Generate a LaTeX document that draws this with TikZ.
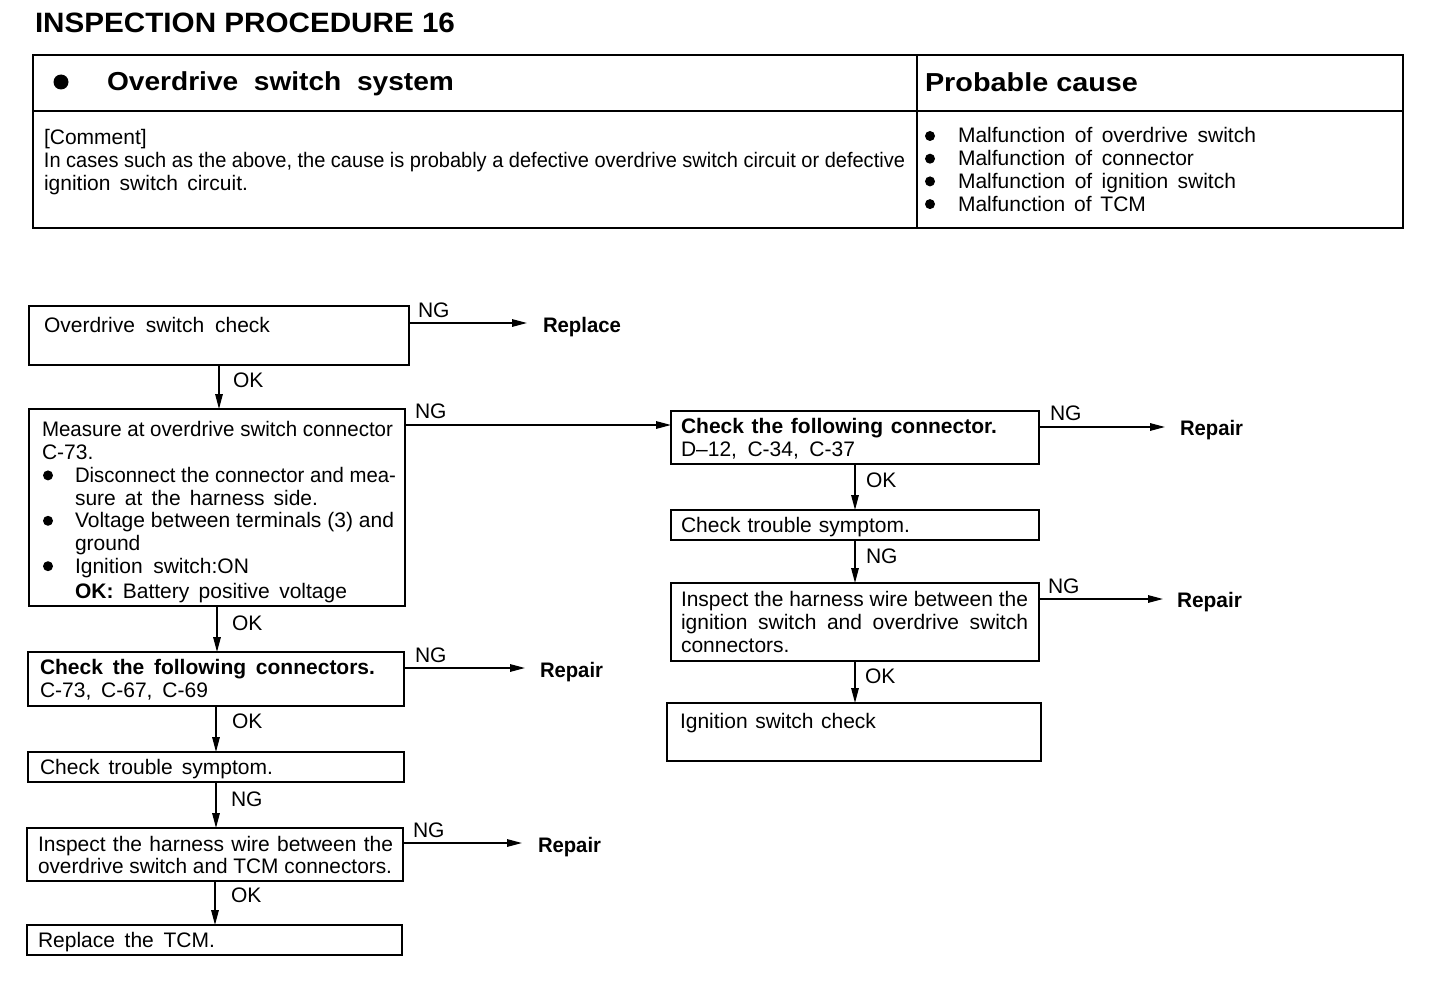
\documentclass[tikz,border=0pt]{standalone}
\usepackage{fontspec}
\setmainfont{Liberation Sans}
\usepackage{graphicx}
\usetikzlibrary{arrows.meta,calc}
\newsavebox\fitbox
\newcommand\fitto[2]{\sbox\fitbox{#2}\ifdim\wd\fitbox>#1\relax\resizebox{#1}{\height}{#2}\else\makebox[#1][s]{#2}\fi}
\newcommand\myfit[2]{\resizebox{#1}{\height}{#2}}
\newcommand\mybul[4]{\makebox[#1][l]{\tikz[baseline=0pt]{\path (0pt,0pt); \fill (#2,#3) circle (#4);}}}
\tikzset{
  box/.style={draw, line width=1.7pt, anchor=north west, inner sep=0pt, outer sep=0pt},
  txt/.style={inner sep=0pt, outer sep=0pt, anchor=base west, font=\fontsize{21}{22.7}\selectfont},
  mtxt/.style={txt, anchor=north west, align=left},
  res/.style={txt, font=\fontsize{21}{22.7}\selectfont\bfseries},
  arr/.style={line width=1.5pt, -{Triangle[length=15pt,width=7.5pt]}},
}
\begin{document}
\begin{tikzpicture}[x=1pt,y=-1pt]
\fill[white] (0,0) rectangle (1456,990);
\useasboundingbox (0,0) rectangle (1456,990);

% title
\node[txt, font=\fontsize{28}{30}\selectfont\bfseries] (title) at (35,33) {\myfit{420pt}{INSPECTION PROCEDURE 16}};

% header table
\node[box, line width=2.2pt, minimum width=1370pt, minimum height=173pt] (tbl) at (33,55) {};
\draw[line width=1.7pt] (tbl.west |- 0,111) -- (tbl.east |- 0,111);
\draw[line width=1.7pt] (917,0 |- tbl.north) -- (917,0 |- tbl.south);
\node[txt, font=\fontsize{26}{28}\selectfont\bfseries] (hd1) at (53,91) {\mybul{54pt}{8pt}{9pt}{7.5pt}\myfit{347pt}{Overdrive\ \ switch\ \ system}};
\node[txt, font=\fontsize{26}{28}\selectfont\bfseries] (hd2) at (925,92) {\myfit{213pt}{Probable cause}};
\node[mtxt] (cm) at (44,129.1) {\strut\fitto{104pt}{[Comment]}\\
  \strut\myfit{861pt}{In cases such as the above, the cause is probably a defective overdrive switch circuit or defective}\\
  \strut\fitto{204pt}{ignition switch circuit.}};
\node[mtxt] (pc) at (924,127.1) {\strut\mybul{34pt}{6pt}{7pt}{5pt}\fitto{298pt}{Malfunction of overdrive switch}\\
  \strut\mybul{34pt}{6pt}{7pt}{5pt}\fitto{236pt}{Malfunction of connector}\\
  \strut\mybul{34pt}{6pt}{7pt}{5pt}\fitto{278pt}{Malfunction of ignition switch}\\
  \strut\mybul{34pt}{6pt}{7pt}{5pt}\fitto{188pt}{Malfunction of TCM}};

% box 1
\node[box, minimum width=380pt, minimum height=59pt] (b1) at (29,306) {};
\node[txt] (t1) at (44,332) {\fitto{226pt}{Overdrive switch check}};
\coordinate (e1) at (527,323);
\draw[arr] (b1.east |- e1) -- (e1);
\node[txt] (ng1) at (418,317) {NG};
\node[res] (rp1) at (543,332) {\fitto{78pt}{Replace}};

% box 2
\node[box, minimum width=376pt, minimum height=197pt] (b2) at (29,409) {};
\draw[arr] (b1.south) -- (b1.south |- b2.north);
\node[txt] (ok1) at (233,387) {OK};
\node[mtxt] (t2) at (42,421.1) {\strut\fitto{351pt}{Measure at overdrive switch connector}\\
  \strut C-73.\\
  \strut\mybul{33pt}{6pt}{7pt}{5pt}\fitto{321pt}{Disconnect the connector and mea-}\\
  \strut\hspace*{33pt}\fitto{243pt}{sure at the harness side.}\\
  \strut\mybul{33pt}{6pt}{7pt}{5pt}\fitto{319pt}{Voltage between terminals (3) and}\\
  \strut\hspace*{33pt}ground\\
  \strut\mybul{33pt}{6pt}{7pt}{5pt}\fitto{174pt}{Ignition switch:ON}\\[2.3pt]
  \strut\hspace*{33pt}\fitto{272pt}{\textbf{OK:} Battery positive voltage}};

% box 3
\node[box, minimum width=368pt, minimum height=53pt] (b3) at (671,411) {};
\coordinate (j2) at (0,425);
\draw[arr] (b2.east |- j2) -- (b3.west |- j2);
\node[txt] (ng2) at (415,418) {NG};
\node[mtxt] (t3) at (681,418.1) {\strut\fitto{316pt}{\bfseries Check the following connector.}\\
  \strut\fitto{174pt}{D–12, C-34, C-37}};
\coordinate (e3) at (1165,427);
\draw[arr] (b3.east |- e3) -- (e3);
\node[txt] (ng3) at (1050,420) {NG};
\node[res] (rp3) at (1180,435) {\fitto{63pt}{Repair}};

% box 4
\node[box, minimum width=368pt, minimum height=30pt] (b4) at (671,510) {};
\draw[arr] (b3.south) -- (b3.south |- b4.north);
\node[txt] (ok3) at (866,487) {OK};
\node[txt] (t4) at (681,532) {\fitto{229pt}{Check trouble symptom.}};

% box 5
\node[box, minimum width=368pt, minimum height=78pt] (b5) at (671,583) {};
\draw[arr] (b4.south) -- (b4.south |- b5.north);
\node[txt] (ng4) at (866,563) {NG};
\node[mtxt] (t5) at (681,591.1) {\strut\fitto{347pt}{Inspect the harness wire between the}\\
  \strut\fitto{347pt}{ignition switch and overdrive switch}\\
  \strut connectors.};
\coordinate (e5) at (1163,599);
\draw[arr] (b5.east |- e5) -- (e5);
\node[txt] (ng5) at (1048,593) {NG};
\node[res] (rp5) at (1177,607) {\fitto{65pt}{Repair}};

% box 6
\node[box, minimum width=374pt, minimum height=58pt] (b6) at (667,703) {};
\draw[arr] (b5.south) -- (b5.south |- b6.north);
\node[txt] (ok5) at (865,683) {OK};
\node[txt] (t6) at (680,728) {\fitto{196pt}{Ignition switch check}};

% box 7
\node[box, minimum width=376pt, minimum height=54pt] (b7) at (28,652) {};
\draw[arr] (b2.south) -- (b2.south |- b7.north);
\node[txt] (ok2) at (232,630) {OK};
\node[mtxt] (t7) at (40,659.1) {\strut\fitto{335pt}{\bfseries Check the following connectors.}\\
  \strut\fitto{168pt}{C-73, C-67, C-69}};
\coordinate (e7) at (525,668);
\draw[arr] (b7.east |- e7) -- (e7);
\node[txt] (ng7) at (415,662) {NG};
\node[res] (rp7) at (540,677) {\fitto{63pt}{Repair}};

% box 8
\node[box, minimum width=376pt, minimum height=30pt] (b8) at (28,752) {};
\draw[arr] (b7.south) -- (b7.south |- b8.north);
\node[txt] (ok7) at (232,728) {OK};
\node[txt] (t8) at (40,774) {\fitto{233pt}{Check trouble symptom.}};

% box 9
\node[box, minimum width=376pt, minimum height=53pt] (b9) at (27,828) {};
\draw[arr] (b8.south) -- (b8.south |- b9.north);
\node[txt] (ng8) at (231,806) {NG};
\node[mtxt] (t9) at (38,835.1) {\strut\fitto{355pt}{Inspect the harness wire between the}\\
  \strut\fitto{354pt}{overdrive switch and TCM connectors.}};
\coordinate (e9) at (522,843);
\draw[arr] (b9.east |- e9) -- (e9);
\node[txt] (ng9) at (413,837) {NG};
\node[res] (rp9) at (538,852) {\fitto{63pt}{Repair}};

% box 10
\node[box, minimum width=375pt, minimum height=30pt] (b10) at (27,925) {};
\draw[arr] (b9.south) -- (b9.south |- b10.north);
\node[txt] (ok9) at (231,902) {OK};
\node[txt] (t10) at (38,947) {\fitto{177pt}{Replace the TCM.}};
\end{tikzpicture}
\end{document}
